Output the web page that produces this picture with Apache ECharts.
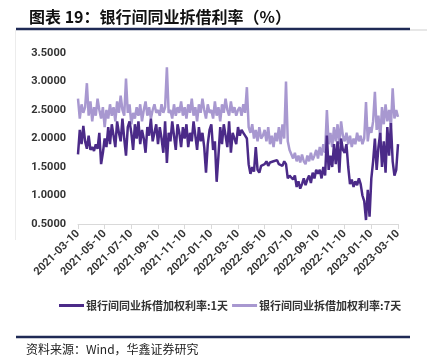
<!DOCTYPE html>
<html>
<head>
<meta charset="utf-8">
<script src="https://cdn.jsdelivr.net/npm/echarts@6/dist/echarts.min.js"></script>
<style>
html,body{margin:0;padding:0;background:#fff;}
#c{width:427px;height:362px;}
</style>
</head>
<body>
<div id="c"></div>
<script>
// Tick labels (every 15th category)
var tickLabels = ['2021-03-10','2021-05-10','2021-07-10','2021-09-10','2021-11-10','2022-01-10','2022-03-10','2022-05-10','2022-07-10','2022-09-10','2022-11-10','2023-01-10','2023-03-10'];
var seriesNames = ['银行间同业拆借加权利率:1天','银行间同业拆借加权利率:7天'];

// 1-day weighted rate (approx. every ~4 days)
var rate1D = [
 1.72,2.15,1.9,2.22,1.95,1.82,2.05,1.8,1.85,1.78,1.9,1.82,2.1,1.55,1.75,
 2.0,1.85,2.2,1.9,2.25,2.05,1.85,2.3,2.1,1.95,2.35,2.0,1.7,2.2,2.3,
 2.1,1.8,2.25,2.0,2.3,1.9,2.15,2.0,1.75,2.2,2.05,2.35,1.95,2.1,2.25,
 1.9,2.2,2.0,1.75,2.3,1.57,2.1,1.95,2.3,2.05,1.8,2.25,2.1,1.85,2.2,
 2.0,2.25,1.85,2.1,1.95,2.3,2.05,1.8,2.2,1.95,2.1,1.85,1.4,1.9,2.15,
 2.25,1.8,1.95,1.24,1.7,2.2,1.9,2.25,2.05,1.85,2.3,1.75,2.1,2.0,1.9,
 2.2,2.05,2.15,2.1,2.05,2.0,1.55,1.38,1.5,1.42,1.85,1.45,1.4,1.52,1.55,
 1.55,1.6,1.52,1.58,1.55,1.6,1.57,1.62,1.55,1.58,1.52,1.6,1.55,1.3,1.35,
 1.32,1.28,1.35,1.15,1.25,1.12,1.2,1.3,1.18,1.28,1.35,1.22,1.4,1.3,1.45,
 1.38,1.45,1.3,1.5,1.35,2.05,1.45,1.7,1.5,1.9,1.55,1.95,1.4,2.0,1.8,
 1.75,1.9,1.5,1.2,1.28,1.15,1.25,1.18,1.3,1.2,1.0,0.9,0.57,1.1,0.63,
 1.3,1.6,2.0,1.45,1.85,2.1,1.5,1.95,1.4,2.2,1.7,2.27,1.6,1.35,1.45,
 1.9
];
// 7-day weighted rate
var rate7D = [
 2.7,2.35,2.6,2.45,2.55,2.97,2.4,2.65,2.3,2.55,2.4,2.7,2.5,2.35,2.55,
 2.2,2.5,2.35,2.6,2.4,2.55,2.3,2.65,2.45,2.75,2.5,2.4,3.05,2.45,2.6,
 2.25,2.45,2.35,2.55,2.4,2.6,2.3,2.5,2.65,2.4,2.55,2.35,2.5,2.6,2.45,
 2.5,2.4,2.6,2.45,2.55,3.25,2.45,2.5,2.35,2.6,2.4,2.55,2.45,2.65,2.4,
 2.55,2.35,2.6,2.45,2.7,2.4,2.55,2.3,2.6,2.45,2.7,2.5,2.35,2.6,2.45,
 2.5,2.35,2.65,2.4,2.55,2.3,2.6,2.45,2.7,2.5,2.4,2.65,2.45,2.55,2.4,
 2.5,2.55,2.4,2.6,2.45,2.9,2.2,2.1,2.25,2.0,2.15,1.95,2.2,2.0,2.05,
 2.15,1.95,2.2,1.9,2.05,1.85,2.1,1.95,2.2,1.9,2.25,2.0,3.0,1.95,1.8,
 1.8,1.65,1.75,1.6,1.7,1.58,1.72,1.6,1.55,1.7,1.6,1.75,1.62,1.7,1.8,
 1.65,1.85,1.7,1.9,1.75,2.5,1.9,2.1,1.85,2.2,1.95,2.25,1.9,2.3,2.05,
 1.95,2.1,1.9,2.05,1.85,2.0,1.9,2.1,1.95,2.05,1.9,2.0,2.64,1.95,2.2,
 2.1,2.3,2.82,2.15,2.4,2.0,2.55,2.25,2.6,2.3,2.5,2.2,2.88,2.35,2.5,
 2.38
];
var labelStep = 15;
var categories = rate1D.map(function(v, i){ return i; });

var chart = echarts.init(document.getElementById('c'));
chart.setOption({
  animation: false,
  backgroundColor: '#fff',
  title: {
    text: '图表 19：银行间同业拆借利率（%）',
    left: 24, top: 4,
    textStyle: {fontFamily: 'Noto Sans CJK SC', fontSize: 16, fontWeight: 'bold', color: '#111'}
  },
  graphic: [
    {type: 'line', shape: {x1: 16, y1: 29, x2: 410, y2: 29}, style: {stroke: '#1f2a55', lineWidth: 2.5}},
    {type: 'line', shape: {x1: 410, y1: 30, x2: 427, y2: 30}, style: {stroke: '#cfcfcf', lineWidth: 1}},
    {type: 'line', shape: {x1: 15.5, y1: 30, x2: 15.5, y2: 240}, style: {stroke: '#ececec', lineWidth: 1}},
    {type: 'line', shape: {x1: 16, y1: 337, x2: 410, y2: 337}, style: {stroke: '#1f2a55', lineWidth: 2.5}},
    {type: 'text', left: 26, top: 343, style: {text: '资料来源：Wind，华鑫证券研究', font: '12px "Noto Sans CJK SC"', fill: '#222'}}
  ],
  legend: {
    left: 54, top: 295,
    itemWidth: 25, itemHeight: 3, itemGap: 4,
    icon: 'rect',
    textStyle: {fontFamily: 'Noto Sans CJK SC', fontSize: 11, fontWeight: 'bold', color: '#333', padding: [0,0,0,-3]},
    data: seriesNames
  },
  grid: {left: 78, right: 29, top: 53, bottom: 138, containLabel: false},
  xAxis: {
    type: 'category',
    data: categories,
    boundaryGap: false,
    axisLine: {lineStyle: {color: '#d9d9d9'}},
    axisTick: {show: true, interval: labelStep - 1, length: 5, lineStyle: {color: '#d9d9d9'}},
    axisLabel: {
      interval: labelStep - 1,
      rotate: 45,
      margin: 8,
      fontFamily: 'Roboto', fontSize: 11, fontWeight: 'bold', color: '#333',
      formatter: function(v, idx){ return tickLabels[Math.round(idx / labelStep)]; }
    },
    splitLine: {show: false}
  },
  yAxis: {
    type: 'value',
    min: 0.5, max: 3.5, interval: 0.5,
    axisLine: {show: false},
    axisTick: {show: false},
    splitLine: {show: false},
    axisLabel: {
      margin: 12,
      fontFamily: 'Roboto', fontSize: 11, fontWeight: 'bold', color: '#333',
      formatter: function(v){ return v.toFixed(4); }
    }
  },
  series: [
    {name: seriesNames[0], type: 'line', data: rate1D, symbol: 'none', z: 3,
     lineStyle: {color: '#4B2A88', width: 2.5}, itemStyle: {color: '#4B2A88'}},
    {name: seriesNames[1], type: 'line', data: rate7D, symbol: 'none', z: 2,
     lineStyle: {color: '#A898D0', width: 2.5}, itemStyle: {color: '#A898D0'}}
  ]
});
</script>
</body>
</html>
